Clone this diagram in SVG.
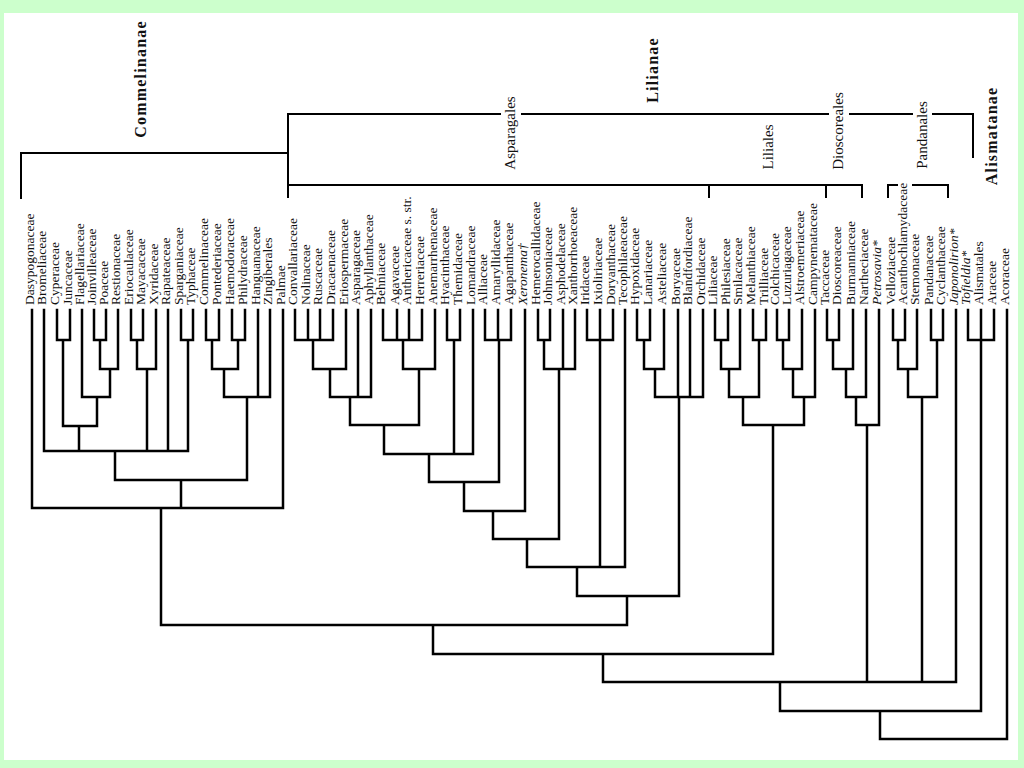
<svg xmlns="http://www.w3.org/2000/svg" width="1024" height="768" viewBox="0 0 1024 768">
<style>
.t{font-family:"Liberation Serif","Times New Roman",serif;font-size:13.5px;fill:#111}
.i{font-style:italic}
.c{font-family:"Liberation Serif","Times New Roman",serif;font-size:15px;fill:#111;text-anchor:middle}
.b{font-family:"Liberation Serif","Times New Roman",serif;font-size:16px;font-weight:bold;letter-spacing:1.2px;fill:#111;text-anchor:middle}
.tree{fill:none;stroke:#000;stroke-width:2.5;stroke-linecap:square}
.br{fill:none;stroke:#000;stroke-width:2;stroke-linecap:square}
</style>
<rect width="1024" height="768" fill="#ccffcc"/>
<rect x="4" y="13" width="1014" height="747" fill="#ffffff"/>

<g id="clade-labels">
<g id="commelinanae"><text class="b" transform="translate(146,79) rotate(-90)">Commelinanae</text></g>
<g id="lilianae"><text class="b" transform="translate(658,70) rotate(-90)">Lilianae</text></g>
<g id="alismatanae"><text class="b" transform="translate(997,136) rotate(-90)">Alismatanae</text></g>
<g id="asparagales"><text class="c" transform="translate(515,133) rotate(-90)">Asparagales</text></g>
<g id="liliales"><text class="c" transform="translate(773,147) rotate(-90)">Liliales</text></g>
<g id="dioscoreales"><text class="c" transform="translate(843,131) rotate(-90)">Dioscoreales</text></g>
<g id="pandanales"><text class="c" transform="translate(927,135) rotate(-90)">Pandanales</text></g>
</g>

<g id="connectors">
<path class="br" d="M21 198V153H288 M288 197V114H500 M522 114H828 M850 114H912 M933 114H973V157 M288 185H862 M709 185V197 M826 185V197 M862 185V197 M888 197V185H897 M913 185H948V197"/>
<path class="tree" d="
M57 310V340 M70 310V340 M57 340H70
M94 310V340 M106 310V340 M94 340H106
M100 340V369 M118 310V369 M100 369H118
M82 310V397 M110 369V397 M82 397H110
M63 340V426 M97 397V426 M63 426H97
M131 310V340 M143 310V340 M131 340H143
M137 340V369 M156 310V369 M137 369H156
M181 310V340 M193 310V340 M181 340H193
M44 310V451 M79 426V451 M147 369V451 M168 310V451 M188 340V451 M44 451H188
M206 310V340 M219 310V340 M206 340H219
M232 310V340 M245 310V340 M232 340H245
M212 340V369 M238 340V369 M212 369H238
M224 369V397 M258 310V397 M270 310V397 M224 397H270
M115 451V480 M247 397V480 M115 480H247
M32 310V508 M181 480V508 M283 310V508 M32 508H283
M295 310V340 M308 310V340 M320 310V340 M333 310V340 M295 340H333
M313 340V369 M346 310V369 M313 369H346
M330 369V397 M358 310V397 M371 310V397 M330 397H371
M383 310V340 M397 310V340 M409 310V340 M422 310V340 M383 340H422
M403 340V369 M435 310V369 M403 369H435
M350 397V425 M419 369V425 M350 425H419
M447 310V340 M460 310V340 M447 340H460
M384 425V454 M454 340V454 M473 310V454 M384 454H473
M485 310V340 M498 310V340 M511 310V340 M485 340H511
M429 454V482 M499 340V482 M429 482H499
M464 482V511 M525 310V511 M464 511H525
M538 310V340 M550 310V340 M538 340H550
M544 340V369 M563 310V369 M575 310V369 M544 369H575
M493 511V539 M559 369V539 M493 539H559
M587 310V340 M600 310V340 M613 310V340 M587 340H613
M527 539V567 M600 340V567 M625 310V567 M527 567H625
M637 310V340 M650 310V340 M637 340H650
M644 340V369 M664 310V369 M644 369H664
M655 369V397 M678 310V397 M690 310V397 M703 310V397 M655 397H703
M577 567V596 M679 397V596 M577 596H679
M161 508V625 M627 596V625 M161 625H627
M715 310V340 M728 310V340 M715 340H728
M721 340V369 M740 310V369 M721 369H740
M753 310V340 M766 310V340 M753 340H766
M729 369V397 M759 340V397 M729 397H759
M777 310V340 M789 310V340 M777 340H789
M783 340V369 M802 310V369 M783 369H802
M793 369V397 M815 310V397 M793 397H815
M743 397V425 M804 397V425 M743 425H804
M433 625V654 M773 425V654 M433 654H773
M827 310V340 M839 310V340 M827 340H839
M833 340V369 M853 310V369 M833 369H853
M846 369V397 M866 310V397 M846 397H866
M856 397V425 M879 310V425 M856 425H879
M893 310V340 M905 310V340 M893 340H905
M898 340V369 M917 310V369 M898 369H917
M931 310V340 M943 310V340 M931 340H943
M908 369V397 M937 340V397 M908 397H937
M603 654V682 M867 425V682 M922 397V682 M956 310V682 M603 682H956
M968 310V340 M981 310V340 M994 310V340 M968 340H994
M780 682V711 M981 340V711 M780 711H981
M880 711V739 M1007 310V739 M880 739H1007"/>
</g>

<g id="taxa">
<g id="t01"><text class="t" transform="translate(33.5,305) rotate(-90)">Dasypogonaceae</text></g>
<g id="t02"><text class="t" transform="translate(45.5,305) rotate(-90)">Bromeliaceae</text></g>
<g id="t03"><text class="t" transform="translate(58.5,305) rotate(-90)">Cyperaceae</text></g>
<g id="t04"><text class="t" transform="translate(71.5,305) rotate(-90)">Juncaceae</text></g>
<g id="t05"><text class="t" transform="translate(83.5,305) rotate(-90)">Flagellariaceae</text></g>
<g id="t06"><text class="t" transform="translate(95.5,305) rotate(-90)">Joinvilleaceae</text></g>
<g id="t07"><text class="t" transform="translate(107.5,305) rotate(-90)">Poaceae</text></g>
<g id="t08"><text class="t" transform="translate(119.5,305) rotate(-90)">Restionaceae</text></g>
<g id="t09"><text class="t" transform="translate(132.5,305) rotate(-90)">Eriocaulaceae</text></g>
<g id="t10"><text class="t" transform="translate(144.5,305) rotate(-90)">Mayacaceae</text></g>
<g id="t11"><text class="t" transform="translate(157.5,305) rotate(-90)">Xyridaceae</text></g>
<g id="t12"><text class="t" transform="translate(169.5,305) rotate(-90)">Rapateaceae</text></g>
<g id="t13"><text class="t" transform="translate(182.5,305) rotate(-90)">Sparganiaceae</text></g>
<g id="t14"><text class="t" transform="translate(194.5,305) rotate(-90)">Typhaceae</text></g>
<g id="t15"><text class="t" transform="translate(207.5,305) rotate(-90)">Commelinaceae</text></g>
<g id="t16"><text class="t" transform="translate(220.5,305) rotate(-90)">Pontederiaceae</text></g>
<g id="t17"><text class="t" transform="translate(233.5,305) rotate(-90)">Haemodoraceae</text></g>
<g id="t18"><text class="t" transform="translate(246.5,305) rotate(-90)">Philydraceae</text></g>
<g id="t19"><text class="t" transform="translate(259.5,305) rotate(-90)">Hanguanaceae</text></g>
<g id="t20"><text class="t" transform="translate(271.5,305) rotate(-90)">Zingiberales</text></g>
<g id="t21"><text class="t" transform="translate(284.5,305) rotate(-90)">Palmae</text></g>
<g id="t22"><text class="t" transform="translate(296.5,305) rotate(-90)">Convallariaceae</text></g>
<g id="t23"><text class="t" transform="translate(309.5,305) rotate(-90)">Nolinaceae</text></g>
<g id="t24"><text class="t" transform="translate(321.5,305) rotate(-90)">Ruscaceae</text></g>
<g id="t25"><text class="t" transform="translate(334.5,305) rotate(-90)">Dracaenaceae</text></g>
<g id="t26"><text class="t" transform="translate(347.5,305) rotate(-90)">Eriospermaceae</text></g>
<g id="t27"><text class="t" transform="translate(359.5,305) rotate(-90)">Asparagaceae</text></g>
<g id="t28"><text class="t" transform="translate(372.5,305) rotate(-90)">Aphyllanthaceae</text></g>
<g id="t29"><text class="t" transform="translate(384.5,305) rotate(-90)">Behniaceae</text></g>
<g id="t30"><text class="t" transform="translate(398.5,305) rotate(-90)">Agavaceae</text></g>
<g id="t31"><text class="t" transform="translate(410.5,305) rotate(-90)">Anthericaceae s. str.</text></g>
<g id="t32"><text class="t" transform="translate(423.5,305) rotate(-90)">Herreriaceae</text></g>
<g id="t33"><text class="t" transform="translate(436.5,305) rotate(-90)">Anemarrhenaceae</text></g>
<g id="t34"><text class="t" transform="translate(448.5,305) rotate(-90)">Hyacinthaceae</text></g>
<g id="t35"><text class="t" transform="translate(461.5,305) rotate(-90)">Themidaceae</text></g>
<g id="t36"><text class="t" transform="translate(474.5,305) rotate(-90)">Lomandraceae</text></g>
<g id="t37"><text class="t" transform="translate(486.5,305) rotate(-90)">Alliaceae</text></g>
<g id="t38"><text class="t" transform="translate(499.5,305) rotate(-90)">Amaryllidaceae</text></g>
<g id="t39"><text class="t" transform="translate(512.5,305) rotate(-90)">Agapanthaceae</text></g>
<g id="t40"><text class="t i" transform="translate(526.5,305) rotate(-90)">Xeronema†</text></g>
<g id="t41"><text class="t" transform="translate(539.5,305) rotate(-90)">Hemerocallidaceae</text></g>
<g id="t42"><text class="t" transform="translate(551.5,305) rotate(-90)">Johnsoniaceae</text></g>
<g id="t43"><text class="t" transform="translate(564.5,305) rotate(-90)">Asphodelaceae</text></g>
<g id="t44"><text class="t" transform="translate(576.5,305) rotate(-90)">Xanthorrhoeaceae</text></g>
<g id="t45"><text class="t" transform="translate(588.5,305) rotate(-90)">Iridaceae</text></g>
<g id="t46"><text class="t" transform="translate(601.5,305) rotate(-90)">Ixioliriaceae</text></g>
<g id="t47"><text class="t" transform="translate(614.5,305) rotate(-90)">Doryanthaceae</text></g>
<g id="t48"><text class="t" transform="translate(626.5,305) rotate(-90)">Tecophilaeaceae</text></g>
<g id="t49"><text class="t" transform="translate(638.5,305) rotate(-90)">Hypoxidaceae</text></g>
<g id="t50"><text class="t" transform="translate(651.5,305) rotate(-90)">Lanariaceae</text></g>
<g id="t51"><text class="t" transform="translate(665.5,305) rotate(-90)">Asteliaceae</text></g>
<g id="t52"><text class="t" transform="translate(679.5,305) rotate(-90)">Boryaceae</text></g>
<g id="t53"><text class="t" transform="translate(691.5,305) rotate(-90)">Blandfordiaceae</text></g>
<g id="t54"><text class="t" transform="translate(704.5,305) rotate(-90)">Orchidaceae</text></g>
<g id="t55"><text class="t" transform="translate(716.5,305) rotate(-90)">Liliaceae</text></g>
<g id="t56"><text class="t" transform="translate(729.5,305) rotate(-90)">Philesiaceae</text></g>
<g id="t57"><text class="t" transform="translate(741.5,305) rotate(-90)">Smilacaceae</text></g>
<g id="t58"><text class="t" transform="translate(754.5,305) rotate(-90)">Melanthiaceae</text></g>
<g id="t59"><text class="t" transform="translate(767.5,305) rotate(-90)">Trilliaceae</text></g>
<g id="t60"><text class="t" transform="translate(778.5,305) rotate(-90)">Colchicaceae</text></g>
<g id="t61"><text class="t" transform="translate(790.5,305) rotate(-90)">Luzuriagaceae</text></g>
<g id="t62"><text class="t" transform="translate(803.5,305) rotate(-90)">Alstroemeriaceae</text></g>
<g id="t63"><text class="t" transform="translate(816.5,305) rotate(-90)">Campynemataceae</text></g>
<g id="t64"><text class="t" transform="translate(828.5,305) rotate(-90)">Taccaceae</text></g>
<g id="t65"><text class="t" transform="translate(840.5,305) rotate(-90)">Dioscoreaceae</text></g>
<g id="t66"><text class="t" transform="translate(854.5,305) rotate(-90)">Burmanniaceae</text></g>
<g id="t67"><text class="t" transform="translate(867.5,305) rotate(-90)">Nartheciaceae</text></g>
<g id="t68"><text class="t i" transform="translate(880.5,305) rotate(-90)">Petrosavia*</text></g>
<g id="t69"><text class="t" transform="translate(894.5,305) rotate(-90)">Velloziaceae</text></g>
<g id="t70"><text class="t" transform="translate(906.5,305) rotate(-90)">Acanthochlamydaceae</text></g>
<g id="t71"><text class="t" transform="translate(918.5,305) rotate(-90)">Stemonaceae</text></g>
<g id="t72"><text class="t" transform="translate(932.5,305) rotate(-90)">Pandanaceae</text></g>
<g id="t73"><text class="t" transform="translate(944.5,305) rotate(-90)">Cyclanthaceae</text></g>
<g id="t74"><text class="t i" transform="translate(957.5,305) rotate(-90)">Japonolirion*</text></g>
<g id="t75"><text class="t i" transform="translate(969.5,305) rotate(-90)">Tofieldia*</text></g>
<g id="t76"><text class="t" transform="translate(982.5,305) rotate(-90)">Alismatales</text></g>
<g id="t77"><text class="t" transform="translate(995.5,305) rotate(-90)">Araceae</text></g>
<g id="t78"><text class="t" transform="translate(1008.5,305) rotate(-90)">Acoraceae</text></g>
</g>
</svg>
